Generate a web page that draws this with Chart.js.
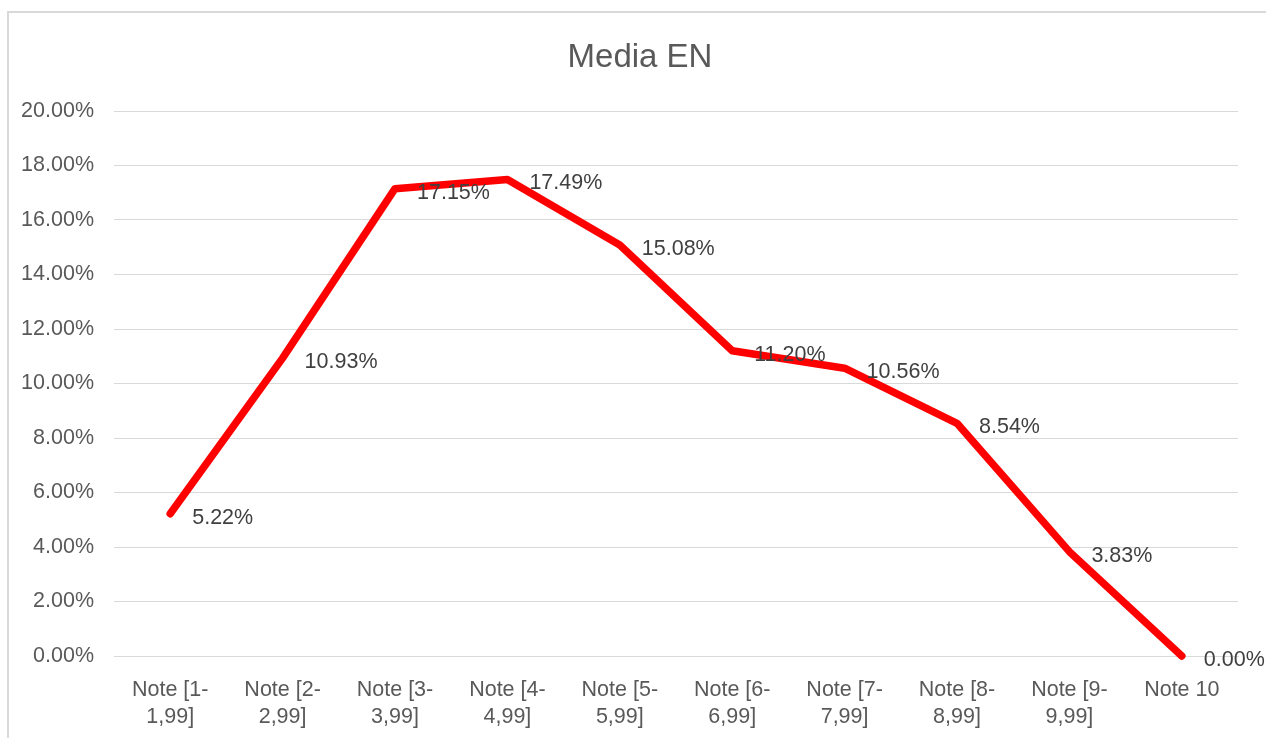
<!DOCTYPE html>
<html>
<head>
<meta charset="utf-8">
<title>Media EN</title>
<script src="https://cdn.jsdelivr.net/npm/chart.js@4.4.1/dist/chart.umd.min.js"></script>
<style>
  html, body { margin: 0; padding: 0; background: #fff; }
  #wrap { position: relative; width: 1266px; height: 738px; }
</style>
</head>
<body>
<div id="wrap"><canvas id="chart"></canvas></div>
<script>
  // --- Data ---
  const chartTitle = 'Media EN';
  const categories = [
    ['Note [1-', '1,99]'], ['Note [2-', '2,99]'], ['Note [3-', '3,99]'],
    ['Note [4-', '4,99]'], ['Note [5-', '5,99]'], ['Note [6-', '6,99]'],
    ['Note [7-', '7,99]'], ['Note [8-', '8,99]'], ['Note [9-', '9,99]'],
    'Note 10',
  ];
  const mediaEN = [5.22, 10.93, 17.15, 17.49, 15.08, 11.20, 10.56, 8.54, 3.83, 0.00];
  const yTicks = [0, 2, 4, 6, 8, 10, 12, 14, 16, 18, 20];

  const FONT = "'Liberation Sans', Arial, sans-serif";

  // light gray frame + title centred on the chart frame (Excel style)
  const framePlugin = {
    id: 'frame',
    beforeDraw(chart) {
      const ctx = chart.ctx;
      ctx.save();
      ctx.fillStyle = '#ffffff';
      ctx.fillRect(0, 0, chart.width, chart.height);
      ctx.strokeStyle = '#d9d9d9';
      ctx.lineWidth = 2;
      ctx.strokeRect(8, 12, 1300, 800);
      ctx.font = '33px ' + FONT;
      ctx.fillStyle = '#595959';
      ctx.textAlign = 'center';
      ctx.textBaseline = 'middle';
      ctx.fillText(chartTitle, 640, 58);
      ctx.restore();
    },
  };

  // value labels to the right of each point
  const labelPlugin = {
    id: 'valueLabels',
    afterDatasetsDraw(chart) {
      const ctx = chart.ctx;
      const meta = chart.getDatasetMeta(0);
      ctx.save();
      ctx.font = '21.5px ' + FONT;
      ctx.fillStyle = '#404040';
      ctx.textAlign = 'left';
      ctx.textBaseline = 'middle';
      meta.data.forEach((pt, i) => {
        ctx.fillText(mediaEN[i].toFixed(2) + '%', pt.x + 22, pt.y + 4);
      });
      ctx.restore();
    },
  };

  new Chart(document.getElementById('chart'), {
    type: 'line',
    data: {
      labels: categories,
      datasets: [{
        label: chartTitle,
        data: mediaEN,
        borderColor: '#ff0000',
        borderWidth: 7.5,
        borderCapStyle: 'round',
        borderJoinStyle: 'round',
        pointRadius: 0,
        tension: 0,
        fill: false,
        clip: false,
      }],
    },
    options: {
      responsive: true,
      maintainAspectRatio: false,
      animation: false,
      layout: { padding: { left: 0, right: 28, top: 111, bottom: 0 } },
      plugins: {
        legend: { display: false },
        tooltip: { enabled: false },
        title: { display: false },
      },
      scales: {
        x: {
          offset: true,
          grid: { display: false, drawTicks: false },
          border: { display: true, color: '#d9d9d9', width: 1 },
          ticks: {
            color: '#595959',
            font: { family: FONT, size: 21.5, lineHeight: 1.28 },
            padding: 20,
            maxRotation: 0,
            autoSkip: false,
          },
          afterFit(scale) { scale.height = 82; },
        },
        y: {
          min: 0,
          max: 20,
          afterBuildTicks(scale) { scale.ticks = yTicks.map(v => ({ value: v })); },
          grid: { color: '#d9d9d9', lineWidth: 1, drawTicks: false },
          border: { display: false },
          ticks: {
            color: '#595959',
            font: { family: FONT, size: 21.5 },
            padding: 20,
            callback: v => v.toFixed(2) + '%',
          },
          afterFit(scale) { scale.width = 114; },
        },
      },
    },
    plugins: [framePlugin, labelPlugin],
  });
</script>
</body>
</html>
